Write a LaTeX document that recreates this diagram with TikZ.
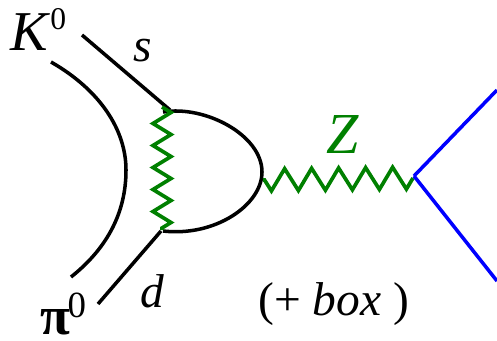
\documentclass[tikz,border=0pt]{standalone}
\usepackage{fontspec}
\setmainfont{Liberation Serif}
\usepackage{tikz}
\usetikzlibrary{decorations.pathmorphing}
\definecolor{bosoncol}{HTML}{008000}
\newcommand{\zerotag}[2]{\raisebox{#1}{\fontsize{#2}{#2}\selectfont 0}}
\tikzset{
  quarkline/.style={line width=2pt},
  leptonline/.style={line width=2pt, blue},
  bosonline/.style 2 args={line width=2.1pt, bosoncol, decorate, decoration={zigzag, amplitude=#1, segment length=#2}},
  biglabel/.style={anchor=base west, inner sep=0pt, font=\fontsize{27}{27}\selectfont}
}

\begin{document}
\begin{tikzpicture}
\useasboundingbox (0,0) rectangle (9.94,6.8);
% vertices and free ends of the lines
\coordinate (sIn) at (1.64,6.10);
\coordinate (sVert) at (3.40,4.60);
\coordinate (dIn) at (1.96,0.72);
\coordinate (dVert) at (3.22,2.18);
\coordinate (loopTop) at (3.26,4.56);
\coordinate (loopMid) at (5.24,3.36);
\coordinate (loopBot) at (3.26,2.18);
\coordinate (wTop) at (3.24,4.66);
\coordinate (wBot) at (3.24,2.20);
\coordinate (zLeft) at (5.26,3.20);
\coordinate (zRight) at (8.26,3.24);
\coordinate (lepVert) at (8.28,3.28);
\coordinate (lepUp) at (9.94,5.00);
\coordinate (lepDown) at (9.94,1.18);
\coordinate (specIn) at (1.02,5.56);
\coordinate (specMid) at (2.52,3.40);
\coordinate (specOut) at (1.42,1.26);

% quark lines
\draw[quarkline] (sIn) -- (sVert);
\draw[quarkline] (dIn) -- (dVert);
\draw[quarkline] (loopTop) .. controls (4.10,4.70) and (5.24,4.10) .. (loopMid)
  .. controls (5.24,2.70) and (4.30,2.06) .. (loopBot);
\draw[quarkline] (specIn) .. controls (2.0,5.0) and (2.52,4.2) .. (specMid)
  .. controls (2.52,2.50) and (2.10,1.80) .. (specOut);

% W and Z
\draw[bosonline={0.18cm}{0.44cm}] (wTop) -- (wBot);
\draw[bosonline={0.22cm}{0.54cm}] (zRight) -- (zLeft);

% outgoing pair
\draw[leptonline] (lepVert) -- (lepUp);
\draw[leptonline] (lepVert) -- (lepDown);

% labels
\node[biglabel, font=\fontsize{32}{32}\selectfont] (kaonLabel) at (0.20,5.80) {\textit{K}\zerotag{0.36em}{18}};
\node[biglabel, font=\fontsize{31}{31}\selectfont] (pionLabel) at (0.80,0.12) {\textbf{π}\kern-1.5pt\zerotag{0.31em}{21}};
\node[biglabel] (sLabel) at (2.66,5.58) {\textit{s}};
\node[biglabel] (dLabel) at (2.80,0.66) {\textit{d}};
\node[biglabel, bosoncol, font=\fontsize{33}{33}\selectfont] (zLabel) at (6.52,3.74) {\textit{Z}};
\node[biglabel] (boxLabel) at (5.16,0.50) {(+ \textit{box} )};
\end{tikzpicture}
\end{document}
